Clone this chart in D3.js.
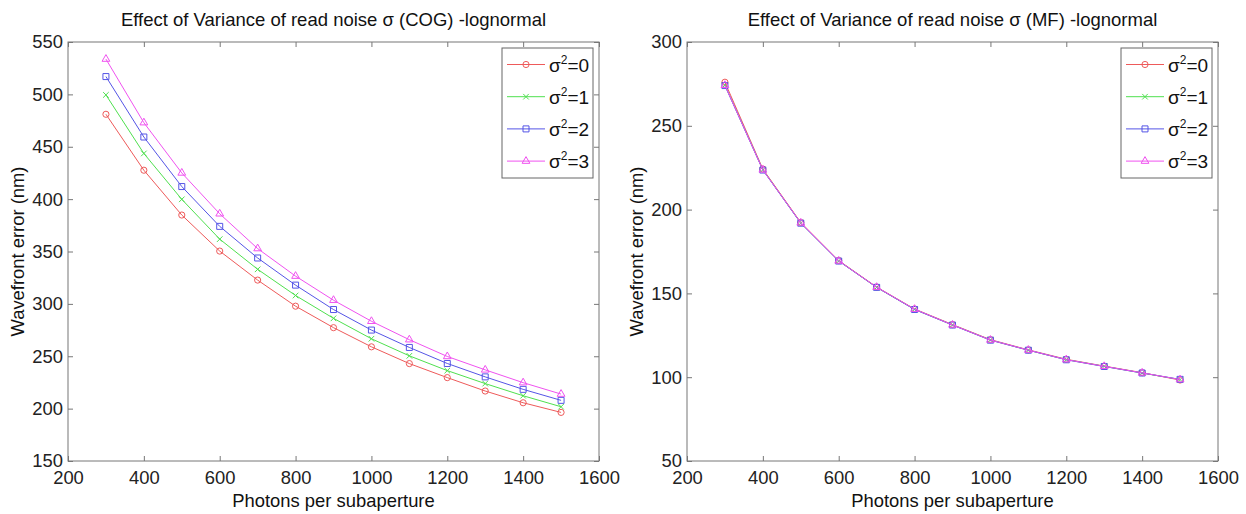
<!DOCTYPE html>
<html>
<head>
<meta charset="utf-8">
<script src="https://cdn.jsdelivr.net/npm/d3@7"></script>
<style>
  body { margin: 0; background: #fff; }
  svg { display: block; font-family: "Liberation Sans", Arial, sans-serif; }
</style>
</head>
<body>
<div id="chart"></div>
<script>
// photons per subaperture (x values shared by every series)
const photons = [300, 400, 500, 600, 700, 800, 900, 1000, 1100, 1200, 1300, 1400, 1500];
const varianceLabels = ["0", "1", "2", "3"];

// COG wavefront error (nm), one array per read-noise variance
const cogVar0 = [481, 427.6, 384.8, 350.4, 322.7, 297.8, 277.3, 259, 243, 229.6, 216.8, 205.6, 196.4];
const cogVar1 = [499.5, 443.6, 399.8, 361.8, 333, 308, 286.2, 266.7, 250.4, 236.3, 223.9, 212.3, 201.8];
const cogVar2 = [517, 459.3, 412, 374, 343.8, 317.9, 294.6, 275, 258.4, 243.1, 230.3, 218.4, 207.9];
const cogVar3 = [533.7, 473, 425, 386, 352.8, 326.5, 303.5, 283.4, 265.8, 249.8, 237, 224.8, 213.9];

// MF wavefront error (nm)
const mfVar0 = [276, 224.2, 192.3, 169.6, 153.8, 140.7, 131.4, 122.4, 116.3, 110.7, 106.6, 102.7, 98.3];
const mfVar1 = [274.3, 223.8, 192, 169.4, 153.6, 140.5, 131.2, 122.2, 116.1, 110.5, 106.5, 102.5, 98.6];
const mfVar2 = [274, 223.6, 191.9, 169.3, 153.6, 140.4, 131.1, 122.1, 116.1, 110.4, 106.4, 102.5, 98.7];
const mfVar3 = [274.2, 223.7, 192.1, 169.4, 153.7, 140.6, 131.2, 122.2, 116.2, 110.5, 106.5, 102.6, 98.6];

const xTicks = [200, 400, 600, 800, 1000, 1200, 1400, 1600];
const cogTicks = [150, 200, 250, 300, 350, 400, 450, 500, 550];
const mfTicks = [50, 100, 150, 200, 250, 300];

const colors = ["#ee5a5a", "#4fe04f", "#5555e6", "#f052f0"];
const symbols = [d3.symbolCircle, d3.symbolTimes || d3.symbolCross, d3.symbolSquare, d3.symbolTriangle];
const symbolSizes = [30, 22, 36, 26];

const width = 1246, height = 514;

const svg = d3.select("#chart").append("svg")
    .attr("width", width)
    .attr("height", height);

function Panel(g, {
  title,
  series,
  yDomain,
  yTicks,
  left, // plot area left edge
  top = 42,
  w = 531,
  h = 419
}) {
  const x = d3.scaleLinear().domain([200, 1600]).range([left, left + w]);
  const y = d3.scaleLinear().domain(yDomain).range([top + h, top]);
  const tickLen = 5;
  const fmt = d3.format("d");

  g.append("rect")
      .attr("x", left).attr("y", top)
      .attr("width", w).attr("height", h)
      .attr("fill", "#fff")
      .attr("stroke", "#777")
      .attr("stroke-width", 1);

  // bottom + left axes, ticks pointing inward
  g.append("g")
      .attr("transform", `translate(0,${top + h})`)
      .call(d3.axisBottom(x).tickValues(xTicks).tickFormat(fmt).tickSize(-tickLen).tickPadding(10))
      .call(a => a.select(".domain").remove())
      .call(a => a.selectAll("line").attr("stroke", "#777"))
      .call(a => a.selectAll("text").attr("font-size", 18.4).attr("fill", "#222"));

  g.append("g")
      .attr("transform", `translate(${left},0)`)
      .call(d3.axisLeft(y).tickValues(yTicks).tickFormat(fmt).tickSize(-tickLen).tickPadding(5))
      .call(a => a.select(".domain").remove())
      .call(a => a.selectAll("line").attr("stroke", "#777"))
      .call(a => a.selectAll("text").attr("font-size", 18.4).attr("fill", "#222"));

  // mirrored ticks on top and right
  g.append("g")
      .attr("transform", `translate(0,${top})`)
      .call(d3.axisTop(x).tickValues(xTicks).tickSize(-tickLen).tickFormat(""))
      .call(a => a.select(".domain").remove())
      .call(a => a.selectAll("line").attr("stroke", "#777"));

  g.append("g")
      .attr("transform", `translate(${left + w},0)`)
      .call(d3.axisRight(y).tickValues(yTicks).tickSize(-tickLen).tickFormat(""))
      .call(a => a.select(".domain").remove())
      .call(a => a.selectAll("line").attr("stroke", "#777"));

  g.append("text")
      .attr("x", left + w / 2).attr("y", 26)
      .attr("text-anchor", "middle")
      .attr("font-size", 18.5)
      .attr("fill", "#111")
      .text(title);

  g.append("text")
      .attr("x", left + w / 2).attr("y", 507)
      .attr("text-anchor", "middle")
      .attr("font-size", 18.4)
      .attr("fill", "#111")
      .text("Photons per subaperture");

  g.append("text")
      .attr("transform", `translate(${left - 44},${top + h / 2}) rotate(-90)`)
      .attr("text-anchor", "middle")
      .attr("font-size", 18.4)
      .attr("fill", "#111")
      .text("Wavefront error (nm)");

  const line = d3.line()
      .x((d, i) => x(photons[i]))
      .y(d => y(d));

  series.forEach((values, k) => {
    g.append("path")
        .attr("d", line(values))
        .attr("fill", "none")
        .attr("stroke", colors[k])
        .attr("stroke-width", 1);

    g.append("g").selectAll("path")
      .data(values)
      .join("path")
        .attr("transform", (d, i) => `translate(${x(photons[i])},${y(d)})`)
        .attr("d", d3.symbol(symbols[k], symbolSizes[k]))
        .attr("fill", "none")
        .attr("stroke", colors[k])
        .attr("stroke-width", 1);
  });

  // legend, upper right inside the axes
  const lx = left + w - 97, ly = top + 6;
  const legend = g.append("g");
  legend.append("rect")
      .attr("x", lx).attr("y", ly)
      .attr("width", 91).attr("height", 130)
      .attr("fill", "#fff")
      .attr("stroke", "#666");

  varianceLabels.forEach((lab, k) => {
    const cy = ly + 16.5 + 32.2 * k;
    legend.append("line")
        .attr("x1", lx + 5).attr("x2", lx + 43)
        .attr("y1", cy).attr("y2", cy)
        .attr("stroke", colors[k]);
    legend.append("path")
        .attr("transform", `translate(${lx + 24},${cy})`)
        .attr("d", d3.symbol(symbols[k], symbolSizes[k]))
        .attr("fill", "none")
        .attr("stroke", colors[k]);
    const t = legend.append("text")
        .attr("x", lx + 47).attr("y", cy + 7)
        .attr("font-size", 19)
        .attr("fill", "#111");
    t.append("tspan").text("σ");
    t.append("tspan").attr("font-size", 12).attr("dy", -8).text("2");
    t.append("tspan").attr("dy", 8).text("=" + lab);
  });
}

Panel(svg.append("g"), {
  title: "Effect of Variance of read noise σ (COG) -lognormal",
  series: [cogVar0, cogVar1, cogVar2, cogVar3],
  yDomain: [150, 550],
  yTicks: cogTicks,
  left: 68
});

Panel(svg.append("g"), {
  title: "Effect of Variance of read noise σ (MF) -lognormal",
  series: [mfVar0, mfVar1, mfVar2, mfVar3],
  yDomain: [50, 300],
  yTicks: mfTicks,
  left: 687
});
</script>
</body>
</html>
